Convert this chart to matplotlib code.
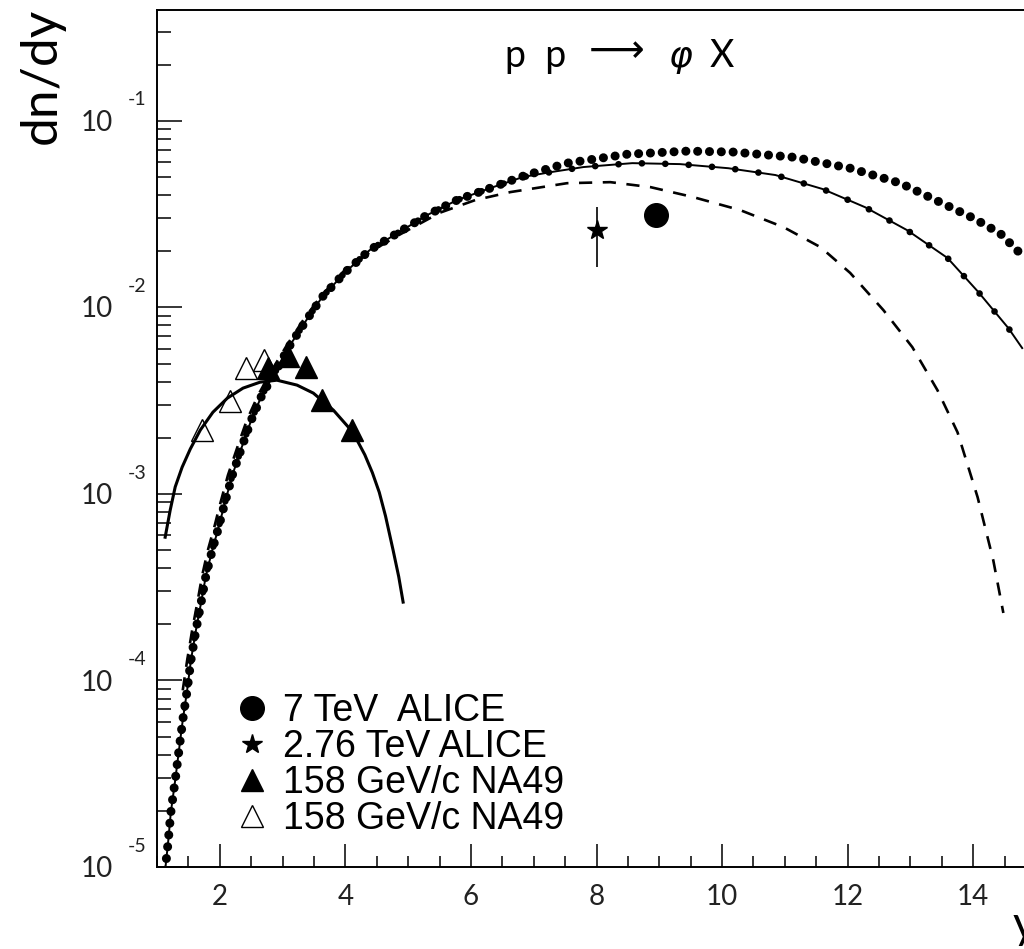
import matplotlib
matplotlib.use("Agg")
import matplotlib.pyplot as plt
from matplotlib import ticker, transforms
from matplotlib.lines import Line2D

# ---- data ----
# model curve 1 (big dots)
dots_y = [1.13, 1.18, 1.22, 1.29, 1.35, 1.41, 1.48, 1.54, 1.62, 1.70, 1.78, 1.88, 1.99,
          2.07, 2.20, 2.36, 2.50, 2.67, 2.90, 3.12, 3.38, 3.63, 4.00, 4.39, 4.83, 5.30,
          5.78, 6.31, 6.83, 7.53, 8.49, 9.45, 10.18, 11.14, 12.04, 12.84, 13.64, 14.00,
          14.43, 14.78]
dots_dn = [9.6e-6, 1.39e-5, 1.96e-5, 2.92e-5, 4.23e-5, 6.12e-5, 8.85e-5, 1.28e-4, 1.86e-4,
           2.59e-4, 3.66e-4, 4.99e-4, 6.79e-4, 8.69e-4, 1.26e-3, 1.82e-3, 2.48e-3, 3.38e-3,
           4.61e-3, 6.28e-3, 8.55e-3, 0.01135, 0.01545, 0.0203, 0.0250, 0.0312, 0.0376,
           0.0436, 0.0505, 0.0593, 0.0662, 0.0688, 0.0680, 0.0638, 0.0557, 0.0463, 0.0344,
           0.0301, 0.0249, 0.0190]

# model curve 2 (line with small dots)
dashdot_y = [1.13, 1.18, 1.22, 1.29, 1.35, 1.41, 1.48, 1.54, 1.62, 1.70, 1.78, 1.88, 1.99,
             2.07, 2.20, 2.36, 2.50, 2.67, 2.90, 3.12, 3.38, 3.63, 4.00, 4.39, 4.83, 5.30,
             5.78, 6.31, 6.83, 7.26, 7.79, 8.57, 9.33, 10.10, 10.85, 11.60, 12.28, 12.95,
             13.59, 14.08, 14.56, 14.78]
dashdot_dn = [9.6e-6, 1.39e-5, 1.96e-5, 2.92e-5, 4.23e-5, 6.12e-5, 8.85e-5, 1.28e-4, 1.86e-4,
              2.59e-4, 3.66e-4, 4.99e-4, 6.79e-4, 8.69e-4, 1.26e-3, 1.82e-3, 2.48e-3, 3.38e-3,
              4.61e-3, 6.28e-3, 8.55e-3, 0.01135, 0.01545, 0.0203, 0.0250, 0.0312, 0.0376,
              0.0436, 0.0500, 0.0530, 0.0565, 0.0593, 0.0586, 0.0557, 0.0512, 0.0431, 0.0344,
              0.0259, 0.0184, 0.0121, 0.00774, 0.00605]

# model curve 3 (dashed)
dashed_y = [1.41, 1.48, 1.56, 1.64, 1.72, 1.81, 1.92, 2.00, 2.13, 2.29, 2.43, 2.61, 2.83,
            3.07, 3.33, 3.60, 3.96, 4.39, 4.87, 5.51, 6.07, 6.63, 7.53, 8.22, 8.86, 9.54,
            10.29, 10.98, 11.57, 12.04, 12.57, 13.03, 13.43, 13.75, 14.07, 14.32, 14.48]
dashed_dn = [8.85e-5, 1.28e-4, 1.86e-4, 2.59e-4, 3.66e-4, 4.99e-4, 6.79e-4, 8.69e-4, 1.26e-3,
             1.82e-3, 2.48e-3, 3.38e-3, 4.61e-3, 6.28e-3, 8.55e-3, 0.01135, 0.01545, 0.0198,
             0.0246, 0.0322, 0.0376, 0.0415, 0.0463, 0.0469, 0.0441, 0.0390, 0.0332, 0.0269,
             0.0210, 0.0153, 0.00966, 0.00612, 0.0036, 0.00214, 9.6e-4, 4.4e-4, 2.3e-4]

# NA49 fit (solid)
fit_y = [1.13, 1.21, 1.29, 1.40, 1.53, 1.69, 1.89, 2.12, 2.37, 2.64, 2.91, 3.23, 3.49, 3.81,
         4.12, 4.31, 4.43, 4.54, 4.64, 4.76, 4.85, 4.92]
fit_dn = [5.86e-4, 8.18e-4, 1.09e-3, 1.39e-3, 1.74e-3, 2.2e-3, 2.74e-3, 3.26e-3, 3.69e-3,
          3.97e-3, 4.07e-3, 3.83e-3, 3.47e-3, 2.81e-3, 2.14e-3, 1.62e-3, 1.3e-3, 1.02e-3,
          7.6e-4, 5.0e-4, 3.6e-4, 2.63e-4]

# measurements
na49_y = [2.77, 3.09, 3.37, 3.63, 4.11]
na49_dn = [4.72e-3, 5.47e-3, 4.77e-3, 3.18e-3, 2.2e-3]
na49_refl_y = [1.72, 2.16, 2.42, 2.70]
na49_refl_dn = [2.2e-3, 3.14e-3, 4.72e-3, 5.21e-3]
alice7_y = [8.94]
alice7_dn = [0.0312]
alice276_y = [8.0]
alice276_dn = [0.026]
alice276_err = [[0.0096], [0.0084]]

labels = ["7 TeV  ALICE", "2.76 TeV ALICE", "158 GeV/c NA49", "158 GeV/c NA49"]
decades = [-5, -4, -3, -2, -1]
xticks = [2, 4, 6, 8, 10, 12, 14]

# ---- figure ----
plt.rcParams["font.family"] = ["Lato", "DejaVu Sans"]
W, H = 1024, 949
fig = plt.figure(figsize=(W / 100, H / 100), dpi=100)
ax = fig.add_axes([157 / W, 1 - 867 / H, 879 / W, 857 / H])
ax.set_yscale("log")
ax.set_xlim(1, 15)
ax.set_ylim(1e-5, 10 ** -0.406)

ax.plot(dots_y, dots_dn, color="k", lw=6.5, ls=(0, (0.01, 1.3)),
        dash_capstyle="round", zorder=2)
ax.plot(dashdot_y, dashdot_dn, color="k", lw=1.4, zorder=2)
ax.plot(dashdot_y, dashdot_dn, color="k", lw=4.8, ls=(0, (0.01, 3.5)),
        dash_capstyle="round", zorder=2)
ax.plot(dashed_y, dashed_dn, color="k", lw=1.9, ls=(0, (5, 4)), zorder=2)
ax.plot(fit_y, fit_dn, color="k", lw=2.2, zorder=2)

ax.plot(na49_y, na49_dn, ls="none", marker="^", ms=16, color="k", zorder=3)
ax.plot(na49_refl_y, na49_refl_dn, ls="none", marker="^", ms=16, mfc="none",
        mec="k", mew=1.0, zorder=3)
ax.plot(alice7_y, alice7_dn, ls="none", marker="o", ms=17, color="k", zorder=3)
ax.errorbar(alice276_y, alice276_dn, yerr=alice276_err, fmt="*", ms=15, color="k",
            elinewidth=1.2, capsize=0, zorder=3)

# axes styling
for s in ax.spines.values():
    s.set_linewidth(1.4)
ax.set_xticks(xticks)
ax.xaxis.set_minor_locator(ticker.MultipleLocator(0.5))
ax.yaxis.set_major_locator(ticker.LogLocator(base=10, numticks=20))
ax.yaxis.set_minor_locator(ticker.LogLocator(base=10, subs=range(2, 10), numticks=20))
ax.yaxis.set_minor_formatter(ticker.NullFormatter())
ax.tick_params(which="both", direction="in", top=False, right=False, color="k")
ax.tick_params(axis="x", which="major", length=16.5, width=1.1, pad=12,
               labelsize=20, labelcolor="#222222")
ax.tick_params(axis="x", which="minor", length=8, width=1.1)
ax.tick_params(axis="y", which="major", length=18, width=1.1, labelleft=False)
ax.tick_params(axis="y", which="minor", length=10, width=1.1)

# y tick labels in "10 ^-n" style
base = transforms.blended_transform_factory(fig.transFigure, ax.transData)
t_ten = transforms.offset_copy(base, fig=fig, y=-1.5, units="points")
t_exp = transforms.offset_copy(base, fig=fig, y=15, units="points")
for e in decades:
    ax.text(113 / W, 10.0 ** e, "10", transform=t_ten, ha="right", va="center",
            fontsize=20, color="#222222", clip_on=False)
    ax.text(128 / W, 10.0 ** e, "-%d" % abs(e), transform=t_exp, ha="left",
            va="center", fontsize=14, color="#222222", clip_on=False)

fig.text(42 / W, 1 - 8 / H, "dn/dy", rotation=90, ha="center", va="top", fontsize=37)
fig.text(1036 / W, 1 - 938 / H, "y", ha="right", va="baseline", fontsize=32)

# reaction label
fig.text(505 / W, 1 - 67 / H, "p  p", ha="left", va="baseline", fontsize=27)
fig.text(617 / W, 1 - 62 / H, "\u27f6", ha="center", va="baseline", fontsize=28,
         family="DejaVu Sans")
fig.text(680 / W, 1 - 67 / H, "\u03c6", ha="center", va="baseline", fontsize=26,
         family="DejaVu Sans", style="italic")
fig.text(710 / W, 1 - 67 / H, "X", ha="left", va="baseline", fontsize=27)

handles = [
    Line2D([], [], ls="none", marker="o", ms=17, color="k"),
    Line2D([], [], ls="none", marker="*", ms=15, color="k"),
    Line2D([], [], ls="none", marker="^", ms=16, color="k"),
    Line2D([], [], ls="none", marker="^", ms=16, mfc="none", mec="k", mew=1.0),
]
ax.legend(handles, labels, loc="upper left", bbox_to_anchor=(237 / W, 1 - 693 / H),
          bbox_transform=fig.transFigure, frameon=False, numpoints=1,
          prop={"family": "Liberation Sans", "size": 27}, handlelength=0.8,
          handletextpad=0.42, labelspacing=0.0, borderpad=0, borderaxespad=0)

fig.savefig("out.png", dpi=100, facecolor="white")
